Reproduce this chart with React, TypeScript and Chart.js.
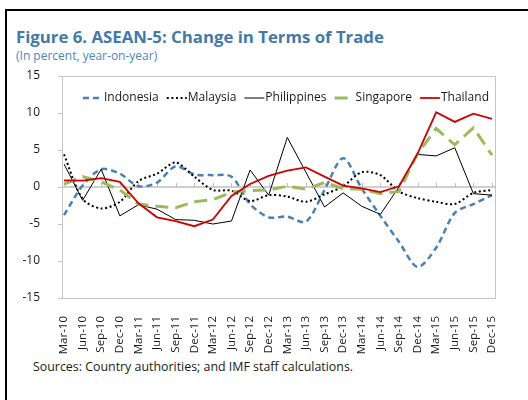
import React, { useEffect, useRef } from "react";
import { Chart, registerables } from "chart.js";

Chart.register(...registerables);

const categories = [
  "Mar-10", "Jun-10", "Sep-10", "Dec-10",
  "Mar-11", "Jun-11", "Sep-11", "Dec-11",
  "Mar-12", "Jun-12", "Sep-12", "Dec-12",
  "Mar-13", "Jun-13", "Sep-13", "Dec-13",
  "Mar-14", "Jun-14", "Sep-14", "Dec-14",
  "Mar-15", "Jun-15", "Sep-15", "Dec-15",
];

const indonesia = [-3.8, 0.2, 2.4, 1.8, 0.1, 0.6, 2.8, 1.7, 1.6, 1.4, -2.3, -4.1, -4.0, -4.7, -0.4, 3.9, -0.2, -3.9, -7.4, -10.8, -8.2, -3.5, -2.3, -1.1];
const malaysia = [4.4, -1.6, -2.9, -2.0, 0.8, 1.8, 3.3, 1.4, -0.4, -0.5, -1.9, -1.1, -1.3, -2.0, -1.0, 0.1, 2.0, 1.6, -0.6, -1.5, -2.0, -2.3, -0.8, -0.4];
const philippines = [3.1, -1.8, 2.4, -3.9, -2.4, -3.0, -4.4, -4.5, -5.0, -4.6, 2.3, -1.1, 6.7, 2.0, -2.7, -0.8, -2.6, -3.7, 0.0, 4.4, 4.2, 5.3, -0.9, -1.1];
const singapore = [0.4, 1.4, 0.7, -0.4, -2.3, -2.6, -2.8, -2.0, -1.7, -0.7, -0.5, -0.4, 0.1, -0.3, 0.6, -0.2, -0.3, -0.9, -0.6, 4.5, 7.9, 5.7, 8.0, 4.3];
const thailand = [0.9, 0.85, 1.2, 0.7, -2.2, -4.1, -4.6, -5.3, -4.4, -1.2, 0.4, 1.5, 2.2, 2.65, 1.4, 0.2, -0.2, -0.7, 0.1, 4.5, 10.1, 8.8, 9.9, 9.2];

const yTicks = [-15, -10, -5, 0, 5, 10, 15];

const FONT = "'Open Sans', 'Noto Sans', sans-serif";

export default function App() {
  const ref = useRef<HTMLCanvasElement | null>(null);

  useEffect(() => {
    if (!ref.current) return;

    const frame = {
      id: "frame",
      beforeDatasetsDraw(chart: any) {
        const { ctx, chartArea: a, scales } = chart;
        const xs = scales.x;
        const ys = scales.y;
        const L = a.left - 2;
        const R = a.right + 3;
        const line = (x1: number, y1: number, x2: number, y2: number) => {
          ctx.beginPath();
          ctx.moveTo(x1, y1);
          ctx.lineTo(x2, y2);
          ctx.stroke();
        };
        ctx.save();
        ctx.strokeStyle = "#c6c6c6";
        ctx.lineWidth = 1;
        ctx.strokeRect(L + 0.5, Math.round(a.top) + 0.5, R - L, Math.round(a.bottom - a.top));
        yTicks.forEach((v) => {
          const py = Math.round(ys.getPixelForValue(v)) + 0.5;
          line(L - 4, py, L, py);
        });
        const zy = ys.getPixelForValue(0);
        ctx.strokeStyle = "#bfbfbf";
        ctx.lineWidth = 1.5;
        line(L, zy, R, zy);
        ctx.lineWidth = 1;
        categories.forEach((_, i) => {
          const px = Math.round(xs.getPixelForValue(i)) + 0.5;
          line(px, zy - 4, px, zy);
        });
        ctx.restore();
      },
    };

    const innerLegend = {
      id: "innerLegend",
      afterDatasetsDraw(chart: any) {
        const { ctx, chartArea: a } = chart;
        ctx.save();
        ctx.font = `12px ${FONT}`;
        ctx.textBaseline = "middle";
        ctx.textAlign = "left";
        let x = a.left + 19;
        const y = a.top + 22;
        chart.data.datasets.forEach((ds: any) => {
          ctx.strokeStyle = ds.borderColor;
          ctx.lineWidth = ds.borderWidth;
          ctx.setLineDash(ds.borderDash || []);
          ctx.beginPath();
          ctx.moveTo(x, y);
          ctx.lineTo(x + 20, y);
          ctx.stroke();
          ctx.setLineDash([]);
          ctx.fillStyle = "#1a1a1a";
          ctx.fillText(ds.label, x + 21, y);
          x += 21 + ctx.measureText(ds.label).width + 8;
        });
        ctx.restore();
      },
    };

    const chart = new Chart(ref.current, {
      type: "line",
      data: {
        labels: categories,
        datasets: [
          {
            label: "Indonesia",
            data: indonesia,
            borderColor: "#4a80b8",
            borderWidth: 2.5,
            borderDash: [6, 4],
            tension: 0.3,
            order: 5,
          },
          {
            label: "Malaysia",
            data: malaysia,
            borderColor: "#000000",
            borderWidth: 2,
            borderDash: [2, 2.6],
            tension: 0.3,
            order: 4,
          },
          {
            label: "Philippines",
            data: philippines,
            borderColor: "#000000",
            borderWidth: 1,
            order: 3,
          },
          {
            label: "Singapore",
            data: singapore,
            borderColor: "#9bbb59",
            borderWidth: 3,
            borderDash: [13, 7],
            order: 2,
          },
          {
            label: "Thailand",
            data: thailand,
            borderColor: "#d00000",
            borderWidth: 1.8,
            order: 1,
          },
        ],
      },
      options: {
        responsive: false,
        animation: false,
        devicePixelRatio: 1,
        elements: { point: { radius: 0, hoverRadius: 0 }, line: { fill: false } },
        layout: { padding: { top: 10, right: 36, left: 0, bottom: 0 } },
        plugins: {
          legend: { display: false },
          tooltip: { enabled: false },
          title: { display: false },
        },
        scales: {
          x: {
            type: "category",
            offset: false,
            grid: { display: false },
            border: { display: false },
            ticks: {
              autoSkip: false,
              maxRotation: 90,
              minRotation: 90,
              padding: 10,
              color: "#1a1a1a",
              font: { family: FONT, size: 11.5 },
            },
            afterFit: (s: any) => {
              s.height = 58;
              s.paddingLeft = 0;
              s.paddingRight = 0;
              s.paddingTop = 0;
              s.paddingBottom = 0;
            },
          },
          y: {
            min: -15,
            max: 15,
            grid: { display: false },
            border: { display: false },
            afterBuildTicks: (s: any) => {
              s.ticks = yTicks.map((v) => ({ value: v }));
            },
            ticks: {
              padding: 16,
              color: "#1a1a1a",
              font: { family: FONT, size: 12 },
            },
            afterFit: (s: any) => {
              s.width = 64;
              s.paddingLeft = 0;
              s.paddingRight = 0;
              s.paddingTop = 0;
              s.paddingBottom = 0;
            },
          },
        },
      },
      plugins: [frame, innerLegend],
    } as any);

    return () => chart.destroy();
  }, []);

  return (
    <div style={{ position: "absolute", left: 0, top: 0, width: 528, height: 400, overflow: "hidden", background: "#fff" }}>
      <div
        style={{
          position: "absolute",
          left: 5,
          top: 9,
          width: 600,
          height: 500,
          borderLeft: "2px solid #000",
          borderTop: "2px solid #000",
        }}
      />
      <div
        style={{
          position: "absolute",
          left: 16,
          top: 28,
          fontFamily: FONT,
          fontWeight: 700,
          fontSize: 16.8,
          lineHeight: "17px",
          color: "#4279ab",
          whiteSpace: "nowrap",
        }}
      >
        Figure 6. ASEAN-5: Change in Terms of Trade
      </div>
      <div
        style={{
          position: "absolute",
          left: 16,
          top: 50,
          fontFamily: FONT,
          fontSize: 12,
          lineHeight: "12px",
          color: "#4a86c0",
          whiteSpace: "nowrap",
        }}
      >
        (In percent, year-on-year)
      </div>
      <canvas
        ref={ref}
        width={528}
        height={290}
        style={{ position: "absolute", left: 0, top: 66, width: 528, height: 290 }}
      />
      <div
        style={{
          position: "absolute",
          left: 33,
          top: 361,
          fontFamily: FONT,
          fontSize: 12.4,
          lineHeight: "12px",
          color: "#1a1a1a",
          whiteSpace: "nowrap",
        }}
      >
        Sources: Country authorities; and IMF staff calculations.
      </div>
    </div>
  );
}
